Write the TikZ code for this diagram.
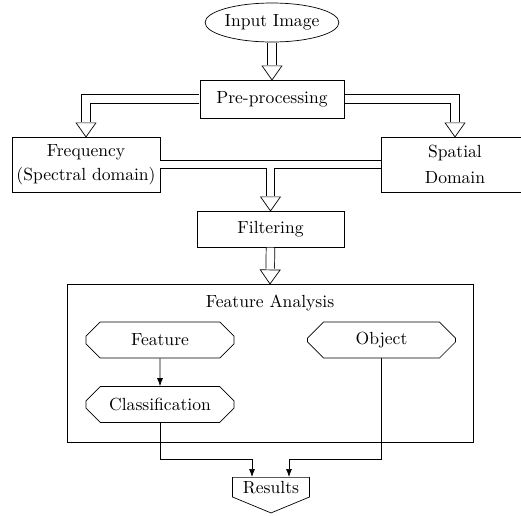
\documentclass[tikz,border=0pt]{standalone}
\usepackage{tikz}
\usetikzlibrary{arrows.meta}
\usetikzlibrary{shapes.geometric,shapes.misc,shapes.symbols}

\tikzset{
	blk/.style={draw, rectangle, align=center, inner sep=2pt, minimum width=2.96cm},
	oct/.style={draw, chamfered rectangle, chamfered rectangle xsep=0.18cm, chamfered rectangle ysep=0.16cm, inner sep=0pt, minimum width=2.96cm, minimum height=0.72cm},
	dbl/.style={draw=white, line width=4.5pt, shorten <=0.2pt, shorten >=-0.5pt,
		-{Triangle[open, length=0.3cm, width=0.42cm, color=black, line width=0.4pt]},
		preaction={draw=black, line width=5.3pt, -, shorten >=0.3cm}},
	dline/.style={draw=black, line width=5.3pt, postaction={draw=white, line width=4.5pt}},
	arr/.style={-{Latex[length=1.6mm, width=1.2mm]}}
}

\begin{document}
\begin{tikzpicture}[x=0.02cm, y=-0.02cm]
	\useasboundingbox (0,0) rectangle (521,515);
	% boxes
	\node[draw, ellipse, minimum width=2.66cm, minimum height=0.78cm, inner sep=0pt] (inp) at (272,22.5) {Input Image};
	\node[blk, minimum width=2.88cm, minimum height=0.76cm] (pre) at (272,99) {Pre-processing};
	\node[blk, minimum height=1.1cm] (freq) at (86,164.5) {Frequency\\[1.5pt](Spectral domain)};
	\node[blk, minimum height=1.1cm] (spat) at (455,164.5) {Spatial\\[2.5pt]Domain};
	\node[blk, minimum width=2.94cm, minimum height=0.72cm] (filt) at (270.5,229) {Filtering};
	\node[blk, minimum width=8.12cm, minimum height=3.16cm] (fa) at (270,363) {};
	\node (fatitle) at (270,303) {Feature Analysis};
	\node[oct] (feat) at (160,340) {Feature};
	\node[oct] (obj) at (381.5,340) {Object};
	\node[oct] (cls) at (160,404.5) {Classification};
	\node[draw, signal, signal to=south, signal pointer angle=135, inner xsep=6pt, inner ysep=2pt, anchor=north] (res) at (271,477) {Results};
	% double arrows
	\draw[dbl] (inp.south) -- (pre.north);
	\draw[dbl] (pre.west) -| (freq.north);
	\draw[dbl] (pre.east) -| (spat.north);
	\draw[dline] (freq.east) -- (spat.west);
	\path (filt.north |- freq.east) ++(0,-2.05pt) coordinate (jn);
	\draw[dbl] (jn) -- (filt.north);
	\draw[dbl] (filt.south) -- (fa.north);
	% single arrows
	\draw[arr] (feat) -- (cls);
	\draw[arr] (cls.south) -- ++(0,36) -| ([xshift=-0.38cm]res.north);
	\draw[arr] (obj.south) -- ++(0,101) -| ([xshift=0.36cm]res.north);
\end{tikzpicture}
\end{document}
